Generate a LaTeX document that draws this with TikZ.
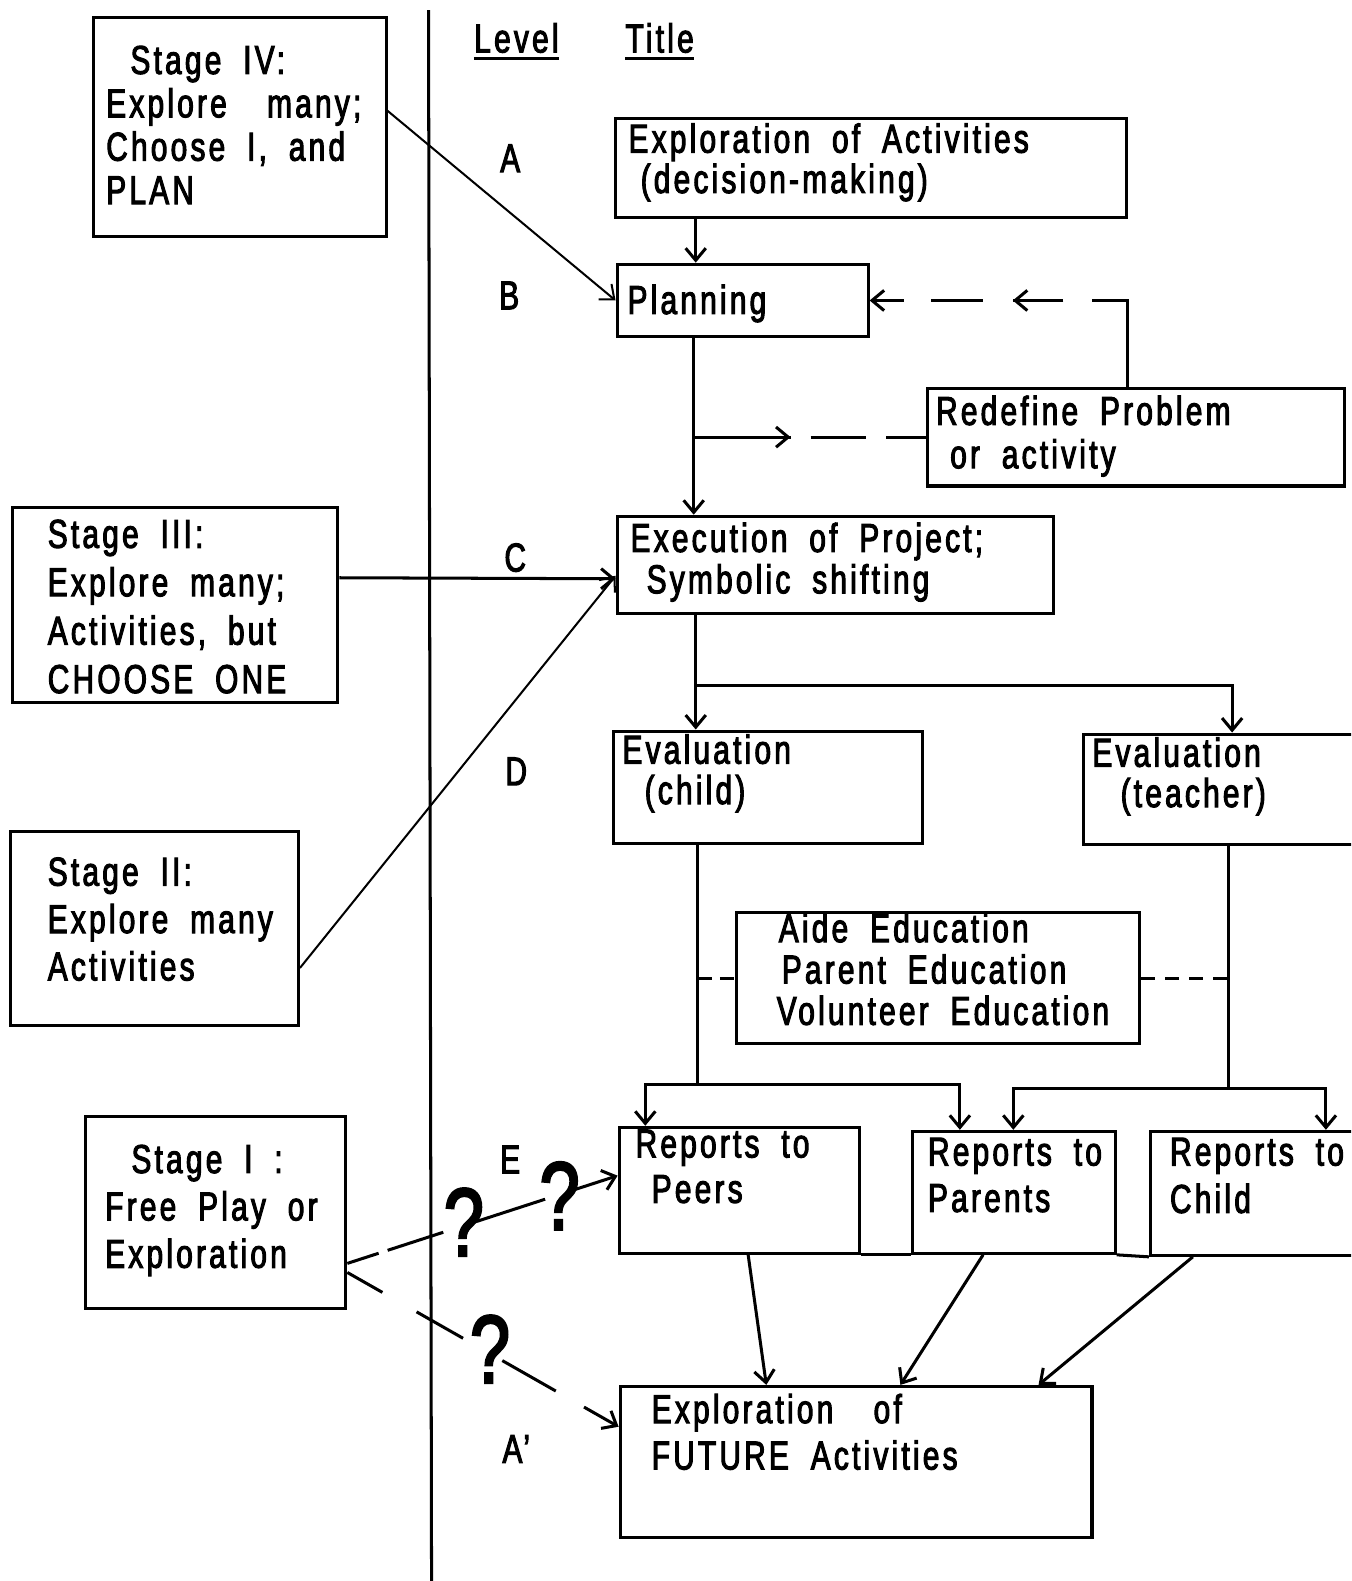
\documentclass[tikz,border=0pt]{standalone}
\usepackage{fontspec}
\setmainfont{Liberation Sans}[FakeStretch=0.74,LetterSpace=8,WordSpace=1.9,FakeBold=2.5]
\usetikzlibrary{arrows.meta,fit,calc,decorations.markings}

\begin{document}
\begin{tikzpicture}[x=0.5pt,y=-0.5pt,
  box/.style={draw,line width=1.5pt,inner sep=0pt},
  txt/.style={anchor=north west,align=left,inner sep=0pt,font=\fontsize{20}{#1}\selectfont},
  txt/.default=22,
  lvl/.style={inner sep=0pt,font=\fontsize{20}{22}\selectfont},
  conn/.style={line width=1.5pt},
  thinconn/.style={line width=1pt},
  tip/.style={-{Straight Barb[length=6pt,width=10pt]}},
  midtip/.style={postaction={decorate,decoration={markings,
      mark=at position #1 with {\arrow{Straight Barb[length=6pt,width=10pt]}}}}},
  quest/.style={inner sep=0pt,font=\fontsize{48}{48}\selectfont}
]
\useasboundingbox (0,0) rectangle (1340,1568);
\clip (0,0) rectangle (1340,1568);

% column separator and headings
\coordinate (septop) at (425,10);
\coordinate (sepbot) at (428,1568);
\draw[conn] (septop) -- (sepbot);
\node[lvl,anchor=base west] (hlevel) at (470,52) {Level};
\node[lvl,anchor=base west] (htitle) at (620,52) {Title};
\draw[conn] ([yshift=-3pt]hlevel.base west) -- ([yshift=-3pt]hlevel.base east);
\draw[conn] ([yshift=-3pt]htitle.base west) -- ([yshift=-3pt]htitle.base east);

% level letters
\node[lvl] (la) at (506,157) {A};
\node[lvl] (lb) at (505,293) {B};
\node[lvl] (lc) at (511,553) {C};
\node[lvl] (ld) at (512,765) {D};
\node[lvl] (le) at (506,1150) {E};
\node[lvl] (la2) at (512,1437) {A'};

% boxes
\node[box,fit={(93,17)(383,235)}] (s4) {};
\node[box,fit={(610,118)(1117,216)}] (explA) {};
\node[box,fit={(612,262)(861,334)}] (plan) {};
\node[box,fit={(920,385)(1333,482)}] (redef) {};
\node[box,fit={(612,512)(1045,608)}] (exec) {};
\node[box,fit={(12,503)(335,697)}] (s3) {};
\node[box,fit={(10,825)(296,1017)}] (s2) {};
\node[box,fit={(608,725)(915,837)}] (evc) {};
\node[box,fit={(1075,728)(1370,838)}] (evt) {};
\node[box,fit={(730,905)(1130,1035)}] (aide) {};
\node[box,fit={(85,1107)(343,1298)}] (s1) {};
\node[box,fit={(614,1118)(852,1243)}] (peers) {};
\node[box,fit={(905,1122)(1106,1243)}] (parents) {};
\node[box,fit={(1141,1122)(1370,1245)}] (child) {};
\node[box,fit={(615,1375)(1083,1525)}] (future) {};

% box texts
\node[txt=21.5] (s4t) at (105,45) {\hspace*{12pt}Stage IV:\\Explore\quad many;\\Choose I, and\\PLAN};
\node[txt=20] (explAt) at (623,122) {Exploration of Activities\\\hspace*{6pt}(decision-making)};
\node[txt] (plant) at (622,282) {Planning};
\node[txt=21.5] (redeft) at (928,392) {Redefine Problem\\\hspace*{7pt}or activity};
\node[txt=20.5] (exect) at (625,518) {Execution of Project;\\\hspace*{8pt}Symbolic shifting};
\node[txt=24] (s3t) at (47,515) {Stage III:\\Explore many;\\Activities, but\\CHOOSE ONE};
\node[txt=23.5] (s2t) at (47,850) {Stage II:\\Explore many\\Activities};
\node[txt=20] (evct) at (617,728) {Evaluation\\\hspace*{11pt}(child)};
\node[txt=20] (evtt) at (1083,731) {Evaluation\\\hspace*{14pt}(teacher)};
\node[txt=20.5] (aidet) at (770,905) {\hspace*{1pt}Aide Education\\\hspace*{2.5pt}Parent Education\\Volunteer Education};
\node[txt=23.5] (s1t) at (104,1135) {\hspace*{13pt}Stage I :\\Free Play or\\Exploration};
\node[txt=22.5] (peerst) at (630,1120) {Reports to\\\hspace*{8pt}Peers};
\node[txt=23] (parentst) at (920,1128) {Reports to\\Parents};
\node[txt=23.5] (childt) at (1160,1128) {Reports to\\Child};
\node[txt=23] (futuret) at (646,1382) {Exploration\quad of\\FUTURE Activities};

% main flow
\draw[conn,tip] (690,0 |- explA.south) -- (690,0 |- plan.north);
\draw[thinconn,tip] (s4.east |- 0,110) -- (plan.west);
\draw[conn,tip] (688,0 |- plan.south) -- (688,0 |- exec.north);

% redefinition loop
\draw[conn,dash pattern=on 60pt off 14.5pt on 25pt off 15pt on 25.5pt off 13.5pt on 40pt,
      tip,midtip=99.5pt] (1118,0 |- redef.north) |- (plan.east);
\draw[conn,dash pattern=on 48pt off 10pt on 27.5pt off 10pt on 40pt,midtip=48pt]
      (688,0 |- redef.west) -- (redef.west);

% stages feeding execution
\draw[conn,tip] (s3.east |- 0,573) -- (exec.west |- 0,574);
\draw[thinconn,tip] (s2.east |- 0,960) -- (exec.west |- 0,571);

% evaluation branches
\coordinate (split1) at (690,680);
\draw[conn] (690,0 |- exec.south) -- (split1);
\draw[conn,tip] (split1) -- (690,0 |- evc.north);
\draw[conn,tip] (split1) -| (1222,0 |- evt.north);

\coordinate (split2) at (692,1076);
\draw[conn] (692,0 |- evc.south) -- (split2);
\draw[conn,tip] (split2) -| (640,0 |- peers.north);
\draw[conn,tip] (split2) -| (952,0 |- parents.north);

\coordinate (split3) at (1218,1080);
\draw[conn] (1218,0 |- evt.south) -- (split3);
\draw[conn,tip] (split3) -| (1005,0 |- parents.north);
\draw[conn,tip] (split3) -| (1315,0 |- child.north);

% education links
\draw[conn,dash pattern=on 7pt off 4pt] (692,0 |- aide.west) -- (aide.west);
\draw[conn,dash pattern=on 7pt off 5pt] (aide.east) -- (1218,0 |- aide.east);

% reports joined along their base
\draw[conn] (peers.south east) -- (parents.south west);
\draw[conn] (parents.south east) -- (child.south west);

% reports to future exploration
\draw[conn,tip] (742,0 |- peers.south) -- (760,0 |- future.north);
\draw[conn,tip] (975,0 |- parents.south) -- (893,0 |- future.north);
\draw[conn,tip] (1183,0 |- child.south) -- (1030,0 |- future.north);

% uncertain paths from free play
\draw[conn,dash pattern=on 16.3pt off 4.7pt on 29pt off 16.3pt on 36.8pt off 11.6pt on 40pt,tip]
      (s1.east |- 0,1253) -- (peers.west |- 0,1166);
\draw[conn,dash pattern=on 20pt off 19.5pt on 26.5pt off 22.4pt on 30.5pt off 16.1pt on 40pt,tip]
      (s1.east |- 0,1262) -- (future.west |- 0,1415);
\node[quest] (q1) at (460,1212) {?};
\node[quest] (q2) at (555,1186) {?};
\node[quest] (q3) at (486,1338) {?};
\end{tikzpicture}
\end{document}
